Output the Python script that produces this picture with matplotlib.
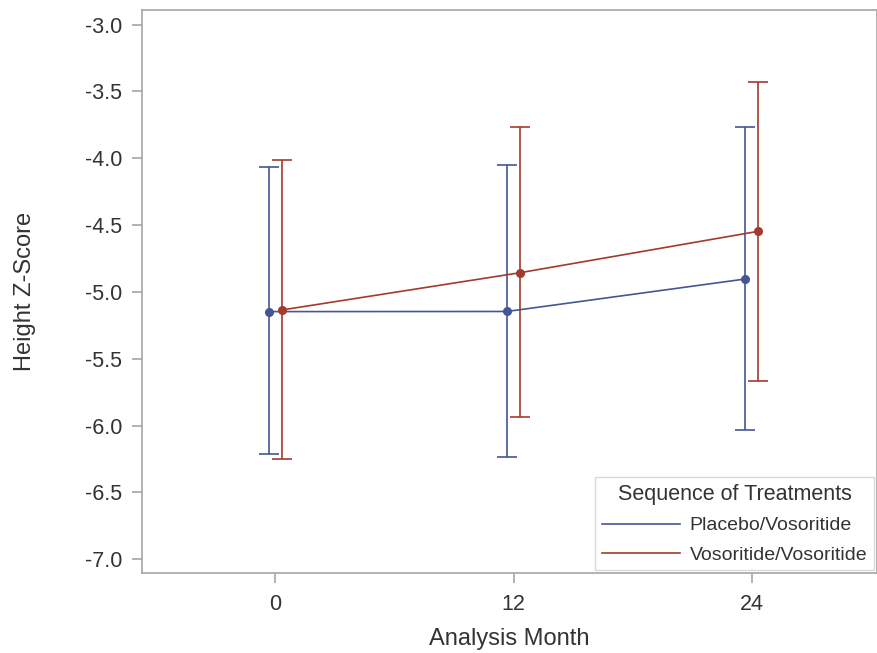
import numpy as np
import matplotlib
matplotlib.use("Agg")
import matplotlib.pyplot as plt
import matplotlib.lines as mlines

plt.rcParams["font.family"] = ["Liberation Sans", "DejaVu Sans"]

# -----------------------------
# DATA
# -----------------------------
months = [0, 12, 24]
groups = ["Placebo/Vosoritide", "Vosoritide/Vosoritide"]

placebo_mean = [-5.147, -5.146, -4.903]
placebo_upper = [-4.067, -4.052, -3.768]
placebo_lower = [-6.212, -6.237, -6.035]

vos_mean = [-5.135, -4.856, -4.546]
vos_upper = [-4.012, -3.763, -3.426]
vos_lower = [-6.252, -5.938, -5.664]

yticks = [-3.0, -3.5, -4.0, -4.5, -5.0, -5.5, -6.0, -6.5, -7.0]

# -----------------------------
# FIGURE
# -----------------------------
blue = "#445694"
red = "#A23A2E"
axis_col = "#A6A6A6"
text_col = "#333333"

fig = plt.figure(figsize=(8.78, 6.53), dpi=100)
ax = fig.add_axes([0.1614, 0.122, 0.8375, 0.862])

series = [
    (placebo_mean, placebo_lower, placebo_upper, blue, -0.33),
    (vos_mean, vos_lower, vos_upper, red, 0.33),
]

for (mean, lo, hi, col, off), name in zip(series, groups):
    x = np.array(months) + off
    mean = np.array(mean)
    yerr = [mean - np.array(lo), np.array(hi) - mean]
    ax.errorbar(x, mean, yerr=yerr, fmt="none", ecolor=col, elinewidth=1.2,
                capsize=7, capthick=1.2, zorder=2)
    ax.plot(x, mean, color=col, lw=1.2, marker="o", markersize=5.5,
            label=name, zorder=3)

ax.set_xlim(-6.72, 30.3)
ax.set_ylim(-7.105, -2.894)
ax.set_xticks(months)
ax.set_xticklabels([str(m) for m in months])
ax.set_yticks(yticks)
ax.set_yticklabels([f"{v:.1f}" for v in yticks])

for sp in ax.spines.values():
    sp.set_color(axis_col)
    sp.set_linewidth(1.2)
ax.tick_params(axis="both", colors=axis_col, labelcolor=text_col,
               labelsize=15.5, length=7, width=1.2)
ax.tick_params(axis="y", pad=7)
ax.tick_params(axis="x", pad=8)

ax.set_xlabel("Analysis Month", fontsize=17, color=text_col, labelpad=9)
ax.set_ylabel("Height Z-Score", fontsize=17, color=text_col, labelpad=35)

labels = groups
handles = [mlines.Line2D([], [], color=blue, lw=1.2),
           mlines.Line2D([], [], color=red, lw=1.2)]
leg = ax.legend(handles, labels, title="Sequence of Treatments",
                loc="lower right", fontsize=14, title_fontsize=15.5,
                frameon=True, fancybox=False, borderaxespad=0.15,
                handlelength=4.0, handletextpad=0.5, labelspacing=0.6,
                borderpad=0.35)
leg.get_frame().set_edgecolor("#D0D0D0")
leg.get_frame().set_linewidth(1.0)
for t in leg.get_texts():
    t.set_color(text_col)
leg.get_title().set_color(text_col)

plt.savefig("out.png", dpi=100)
plt.close()
